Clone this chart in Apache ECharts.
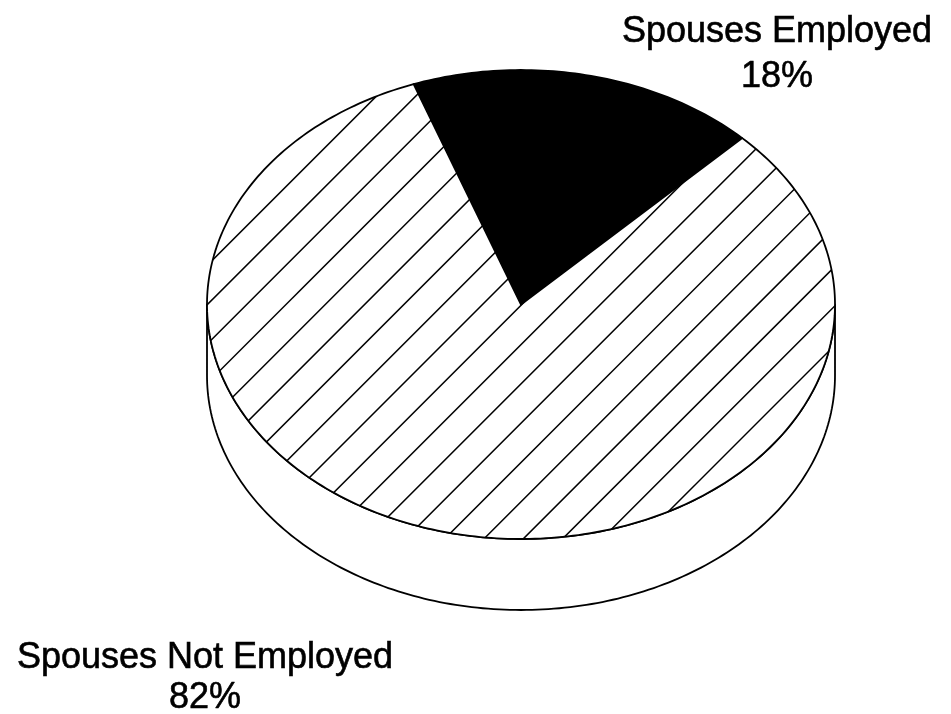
<!DOCTYPE html>
<html>
<head>
<meta charset="utf-8">
<script src="https://cdn.jsdelivr.net/npm/echarts@6/dist/echarts.min.js"></script>
<style>
  html, body { margin: 0; padding: 0; background: #fff; }
  #chart { width: 951px; height: 714px; }
</style>
</head>
<body>
<div id="chart"></div>
<script>
// ---- data ----
const categories = ['Spouses Employed', 'Spouses Not Employed'];
const percents = [18, 82];
const percentLabels = ['18%', '82%'];

// ---- layout / style (not data) ----
const CX = 521, CY = 304.5, RX = 314, RY = 234.5, DEPTH = 71, START = 110;
const W = 951, H = 714;

// hatch pattern canvas ("/" lines)
function makeHatch() {
  const c = document.createElement('canvas');
  c.width = W; c.height = H;
  const ctx = c.getContext('2d');
  ctx.fillStyle = '#fff';
  ctx.fillRect(0, 0, W, H);
  ctx.strokeStyle = '#000';
  ctx.lineWidth = 1.5;
  const s = 39.3, base = 1180;
  for (let k = -40; k <= 40; k++) {
    const c0 = base + k * s; // x + y = c0
    ctx.beginPath();
    ctx.moveTo(c0 - H - 10, H + 10);
    ctx.lineTo(c0 + 10, -10);
    ctx.stroke();
  }
  return c;
}
const hatch = makeHatch();
const fills = [
  '#000',
  { image: hatch, repeat: 'no-repeat' }
];

function pt(a, cy) {
  const r = a * Math.PI / 180;
  return [CX + RX * Math.cos(r), cy - RY * Math.sin(r)];
}
function arc(a0, a1, cy) { // from a0 to a1, step 1 deg
  const pts = [];
  const n = Math.max(2, Math.ceil(Math.abs(a1 - a0)));
  for (let i = 0; i <= n; i++) pts.push(pt(a0 + (a1 - a0) * i / n, cy));
  return pts;
}

const total = percents.reduce((a, b) => a + b, 0);
const seriesData = categories.map((c, i) => ({ name: c, value: [i, percents[i]] }));

function renderItem(params, api) {
  const idx = params.dataIndex;
  const val = api.value(1);
  let cum = 0;
  for (let i = 0; i < idx; i++) cum += percents[i];
  const a0 = START - 360 * cum / total;
  const a1 = a0 - 360 * val / total;
  const children = [];
  // side face: intersection of [a1, a0] with front ranges [-180+360k, 360k]
  for (let k = -2; k <= 2; k++) {
    const lo = Math.max(a1, -180 + 360 * k);
    const hi = Math.min(a0, 360 * k);
    if (hi > lo) {
      const pts = arc(hi, lo, CY).concat(arc(lo, hi, CY + DEPTH));
      children.push({
        type: 'polygon', z2: 0,
        shape: { points: pts },
        style: { fill: '#fff', stroke: '#000', lineWidth: 1.8, lineJoin: 'round' }
      });
    }
  }
  // top face sector
  const top = [[CX, CY]].concat(arc(a0, a1, CY));
  children.push({
    type: 'polygon', z2: 1,
    shape: { points: top },
    style: { fill: fills[idx], stroke: '#000', lineWidth: 1.8, lineJoin: 'round' }
  });
  return { type: 'group', children };
}

const FONT = '"Liberation Sans", Arial, Helvetica, sans-serif';
function txt(text, x, y) {
  return {
    type: 'text', x, y,
    style: {
      text, x: 0, y: 0, fill: '#000', font: '36px ' + FONT,
      textAlign: 'center', textVerticalAlign: 'middle',
      stroke: '#000', lineWidth: 0.6
    }
  };
}
const labelPos = [
  [777, 32, 77],
  [205, 658, 698]
];
const graphics = [];
categories.forEach((c, i) => {
  graphics.push(txt(c, labelPos[i][0], labelPos[i][1]));
  graphics.push(txt(percentLabels[i], labelPos[i][0], labelPos[i][2]));
});

const chart = echarts.init(document.getElementById('chart'), null, { renderer: 'canvas' });
chart.setOption({
  backgroundColor: '#fff',
  animation: false,
  series: [{
    type: 'custom',
    coordinateSystem: 'none',
    renderItem,
    data: seriesData,
    silent: true
  }],
  graphic: graphics
});
</script>
</body>
</html>
